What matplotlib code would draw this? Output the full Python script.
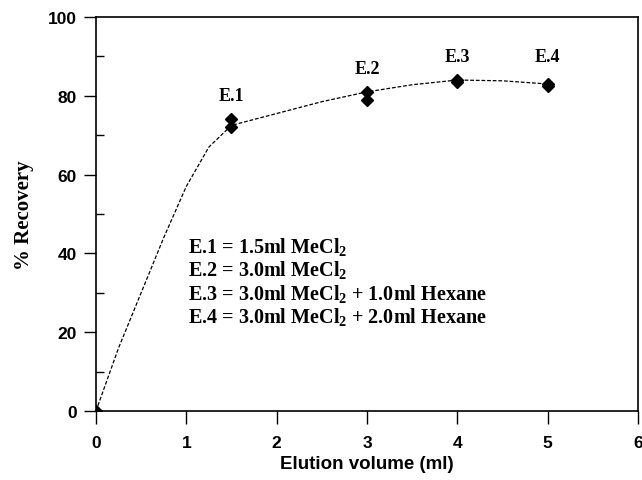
import matplotlib
matplotlib.use("Agg")
import matplotlib.pyplot as plt
from matplotlib.ticker import MultipleLocator

# data points (replicates)
pts_x = [0, 1.5, 1.5, 3, 3, 4, 4, 5, 5]
pts_y = [0, 74, 72, 81, 79, 84, 83.5, 83, 82.5]

# fitted curve
curve_x = [0, 0.25, 0.5, 0.75, 1.0, 1.25, 1.5, 2.0, 2.5, 3.0, 3.5, 4.0, 4.5, 5.0]
curve_y = [0, 16, 30, 44, 57, 67, 72.5, 75.5, 78.5, 81, 82.8, 84, 83.8, 83]

label_names = ["E.1", "E.2", "E.3", "E.4"]
label_x = [1.5, 3, 4, 5]
label_y = [80, 87, 90, 90]

legend_lines = [r"E.1 = 1.5ml MeCl$_2$",
                r"E.2 = 3.0ml MeCl$_2$",
                r"E.3 = 3.0ml MeCl$_2$ + 1.0ml Hexane",
                r"E.4 = 3.0ml MeCl$_2$ + 2.0ml Hexane"]
legend_y = [42, 36, 30, 24]

x_ticks = [0, 1, 2, 3, 4, 5, 6]
y_ticks = [0, 20, 40, 60, 80, 100]

plt.rcParams['mathtext.fontset'] = 'custom'
plt.rcParams['mathtext.rm'] = 'Liberation Serif:bold'
plt.rcParams['mathtext.it'] = 'Liberation Serif:italic:bold'

fig = plt.figure(figsize=(6.42, 4.81), dpi=100)
ax = fig.add_axes([0.1495, 0.1435, 0.8443, 0.8191])

ax.plot(curve_x, curve_y, color='black', lw=0.9, linestyle=(0, (3, 1.5)))
ax.plot(pts_x, pts_y, linestyle='none', marker='D', color='black', markersize=6)

for n, x, y in zip(label_names, label_x, label_y):
    ax.text(x, y, n, ha='center', va='center', fontsize=13,
            family='Liberation Serif', fontweight='bold')

for t, y in zip(legend_lines, legend_y):
    ax.text(1.02, y, t, ha='left', va='center', fontsize=14.5,
            family='Liberation Serif', fontweight='bold')

ax.set_xlim(0, 6)
ax.set_ylim(0, 100)
ax.set_xticks(x_ticks)
ax.set_yticks(y_ticks)
ax.yaxis.set_minor_locator(MultipleLocator(10))
ax.tick_params(axis='both', which='major', direction='out', length=9, width=1,
               labelsize=12.5)
ax.tick_params(axis='x', which='major', pad=8)
ax.tick_params(axis='y', which='major', pad=5)
ax.tick_params(axis='y', which='minor', direction='in', length=6, width=1)
for lab in ax.get_xticklabels() + ax.get_yticklabels():
    lab.set_family('Liberation Sans')
    lab.set_fontweight('bold')
for s in ax.spines.values():
    s.set_linewidth(1.2)

ax.set_xlabel("Elution volume (ml)", fontsize=13.5, family='Liberation Sans',
              fontweight='bold', labelpad=4)
ax.set_ylabel("% Recovery", fontsize=15, family='Liberation Serif',
              fontweight='bold', labelpad=10)

fig.savefig("out.png", dpi=100)
